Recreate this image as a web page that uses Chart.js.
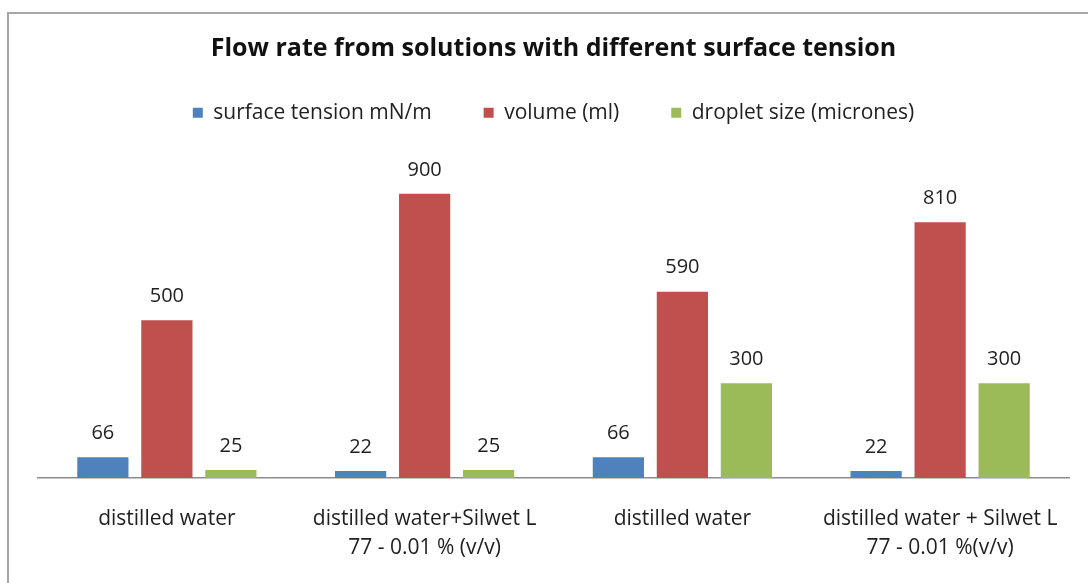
<!DOCTYPE html>
<html>
<head>
<meta charset="utf-8">
<script src="https://cdn.jsdelivr.net/npm/chart.js@4.4.1/dist/chart.umd.min.js"></script>
<style>
  html, body { margin: 0; padding: 0; background: #ffffff; }
  #wrap { width: 1088px; height: 583px; position: relative; }
</style>
</head>
<body>
<div id="wrap"><canvas id="chart" width="1088" height="583"></canvas></div>
<script>
// Solutions tested (x-axis categories, multi-line where wrapped)
const categories = [
  'distilled water',
  ['distilled water+Silwet L', '77 - 0.01 % (v/v)'],
  'distilled water',
  ['distilled water + Silwet L', '77 - 0.01 %(v/v)']
];

const seriesNames = ['surface tension mN/m', 'volume (ml)', 'droplet size (micrones)'];

const surfaceTension = [66, 22, 66, 22];
const volume = [500, 900, 590, 810];
const dropletSize = [25, 25, 300, 300];

const seriesColors = ['#4F81BD', '#C0504D', '#9BBB59'];

const FONT = '"Open Sans", Lato, sans-serif';
const TEXT = '#1f1f1f';

// Outer frame of the chart box
const framePlugin = {
  id: 'frame',
  beforeDraw(chart) {
    const ctx = chart.ctx;
    ctx.save();
    ctx.fillStyle = '#ffffff';
    ctx.fillRect(0, 0, chart.width, chart.height);
    ctx.strokeStyle = '#a6a6a6';
    ctx.lineWidth = 2;
    ctx.beginPath();
    ctx.moveTo(8, chart.height + 5);
    ctx.lineTo(8, 13);
    ctx.lineTo(chart.width + 5, 13);
    ctx.stroke();
    ctx.restore();
  }
};

// Value labels above each bar
const valueLabels = {
  id: 'valueLabels',
  afterDatasetsDraw(chart) {
    const ctx = chart.ctx;
    ctx.save();
    ctx.font = '20px ' + FONT;
    ctx.fillStyle = TEXT;
    ctx.textAlign = 'center';
    ctx.textBaseline = 'middle';
    chart.data.datasets.forEach((ds, i) => {
      chart.getDatasetMeta(i).data.forEach((bar, j) => {
        ctx.fillText(String(ds.data[j]), bar.x, bar.y - 24);
      });
    });
    ctx.restore();
  }
};

new Chart(document.getElementById('chart'), {
  type: 'bar',
  data: {
    labels: categories,
    datasets: [
      { label: seriesNames[0], data: surfaceTension, backgroundColor: seriesColors[0] },
      { label: seriesNames[1], data: volume, backgroundColor: seriesColors[1] },
      { label: seriesNames[2], data: dropletSize, backgroundColor: seriesColors[2] }
    ]
  },
  options: {
    responsive: false,
    animation: false,
    devicePixelRatio: 1,
    categoryPercentage: 0.745,
    barPercentage: 0.8,
    layout: { padding: { left: 38, right: 19, top: 0, bottom: 0 } },
    plugins: {
      title: {
        display: true,
        text: 'Flow rate from solutions with different surface tension',
        color: '#111',
        font: { family: FONT, size: 25, weight: 'bold', lineHeight: 0.1 },
        padding: { top: 47.75, bottom: 0 }
      },
      legend: {
        position: 'top',
        labels: {
          color: TEXT,
          font: { family: FONT, size: 21, lineHeight: 1 },
          boxWidth: 10,
          boxHeight: 10,
          padding: 52
        }
      },
      tooltip: { enabled: false }
    },
    scales: {
      x: {
        grid: { display: false, drawTicks: false },
        border: { display: true, color: '#8c8c8c', width: 1.5 },
        afterFit(scale) { scale.height = 105; },
        ticks: {
          color: TEXT,
          padding: 26,
          maxRotation: 0,
          autoSkip: false,
          font: { family: FONT, size: 21, lineHeight: 1.4 }
        }
      },
      y: {
        display: false,
        min: 0,
        max: 1092
      }
    }
  },
  plugins: [framePlugin, valueLabels]
});
</script>
</body>
</html>
